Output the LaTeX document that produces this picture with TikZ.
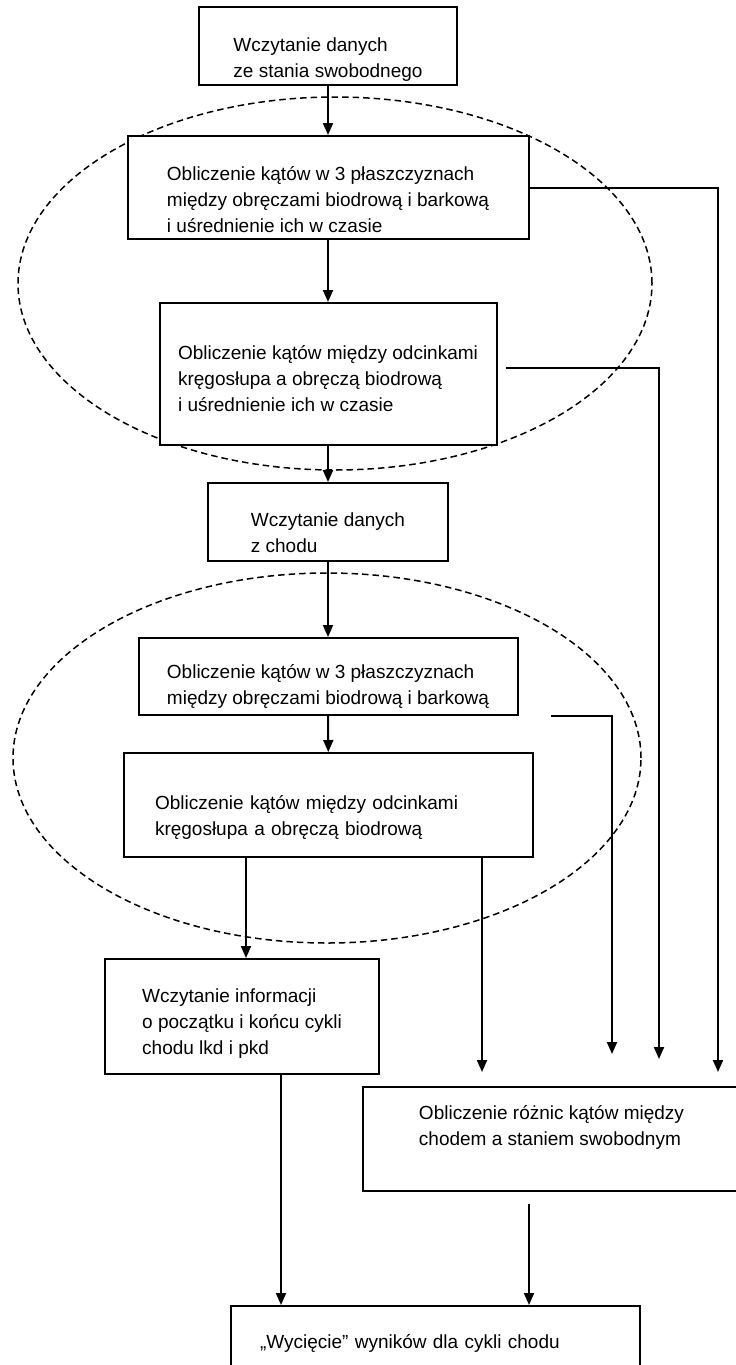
\documentclass[tikz,border=0pt]{standalone}
\usepackage{fontspec}
\setmainfont{Liberation Sans}
\usetikzlibrary{arrows.meta}

% extra room above the first line / below the last line of a box text
\newcommand{\drop}[1]{\rule{0pt}{#1}}
\newcommand{\lift}[1]{\rule[-#1]{0pt}{0pt}}

\begin{document}
\begin{tikzpicture}[x=1pt, y=-1pt,
    box/.style={draw, fill=white, line width=2pt, align=left, inner sep=0pt,
      font=\fontsize{19}{26}\selectfont},
    arr/.style={line width=2pt, -{Triangle[width=10pt, length=12pt]}},
    zone/.style={dash pattern=on 6.5pt off 4pt, line width=1.5pt}]
  \clip (0,0) rectangle (736,1365);

  % dashed groups: standing data and gait data
  \draw[zone] (335,283.5) ellipse [x radius=317pt, y radius=186.5pt];
  \draw[zone] (327,758) ellipse [x radius=314pt, y radius=185pt];

  \node[box, minimum width=258pt, minimum height=78pt] (b1) at (328,46)
    {\drop{40pt}Wczytanie danych\\ze stania swobodnego};
  \node[box, minimum width=401pt, minimum height=103pt] (b2) at (328,187.5)
    {\drop{38pt}Obliczenie kątów w 3 płaszczyznach\\między obręczami biodrową i barkową\\i uśrednienie ich w czasie};
  \node[box, minimum width=337pt, minimum height=142pt] (b3) at (328,374)
    {\drop{24pt}Obliczenie kątów między odcinkami\\kręgosłupa a obręczą biodrową\\i uśrednienie ich w czasie};
  \node[box, minimum width=240pt, minimum height=78pt] (b4) at (328,522)
    {\drop{36pt}Wczytanie danych\\z chodu};
  \node[box, minimum width=379pt, minimum height=77pt] (b5) at (328,676.5)
    {\drop{34pt}Obliczenie kątów w 3 płaszczyznach\\między obręczami biodrową i barkową};
  \node[box, text width=347pt, inner xsep=31pt, minimum height=104pt] (b6) at (328.5,805)
    {\drop{38pt}Obliczenie kątów między odcinkami\\kręgosłupa a obręczą biodrową};
  \node[box, minimum width=274pt, minimum height=115pt] (b7) at (242,1016.5)
    {\drop{28pt}Wczytanie informacji\\o początku i końcu cykli\\chodu lkd i pkd};
  \node[box, minimum width=377pt, minimum height=104pt] (b8) at (551.5,1139)
    {Obliczenie różnic kątów między\\chodem a staniem swobodnym\lift{28pt}};
  \node[box, text width=351pt, inner xsep=29pt, minimum height=74pt] (b9) at (435.5,1343)
    {„Wycięcie” wyników dla cykli chodu};

  % columns of the vertical connectors
  \coordinate (k1) at (246,0);
  \coordinate (k2) at (482,0);
  \coordinate (k3) at (612,0);
  \coordinate (k4) at (659,0);
  \coordinate (k5) at (718,0);
  \coordinate (k6) at (281,0);
  \coordinate (k7) at (529,0);

  \draw[arr] (b1) -- (b2);
  \draw[arr] (b2) -- (b3);
  \draw[arr] (b3) -- (b4);
  \draw[arr] (b4) -- (b5);
  \draw[arr] (b5) -- (b6);
  \draw[arr] (b6.south -| k1) -- (b7.north -| k1);
  \draw[arr, shorten >=14pt] (b6.south -| k2) -- (b8.north -| k2);
  \draw[arr, shorten <=32pt, shorten >=32pt] (b5.south east) -| (b8.north -| k3);
  \draw[arr, shorten <=8pt, shorten >=27pt] ([yshift=6pt]b3.east) -| (b8.north -| k4);
  \draw[arr, shorten >=14pt] (b2.east) -| (b8.north -| k5);
  \draw[arr] (b7.south -| k6) -- (b9.north -| k6);
  \draw[arr, shorten <=12pt] (b8.south -| k7) -- (b9.north -| k7);
\end{tikzpicture}
\end{document}
